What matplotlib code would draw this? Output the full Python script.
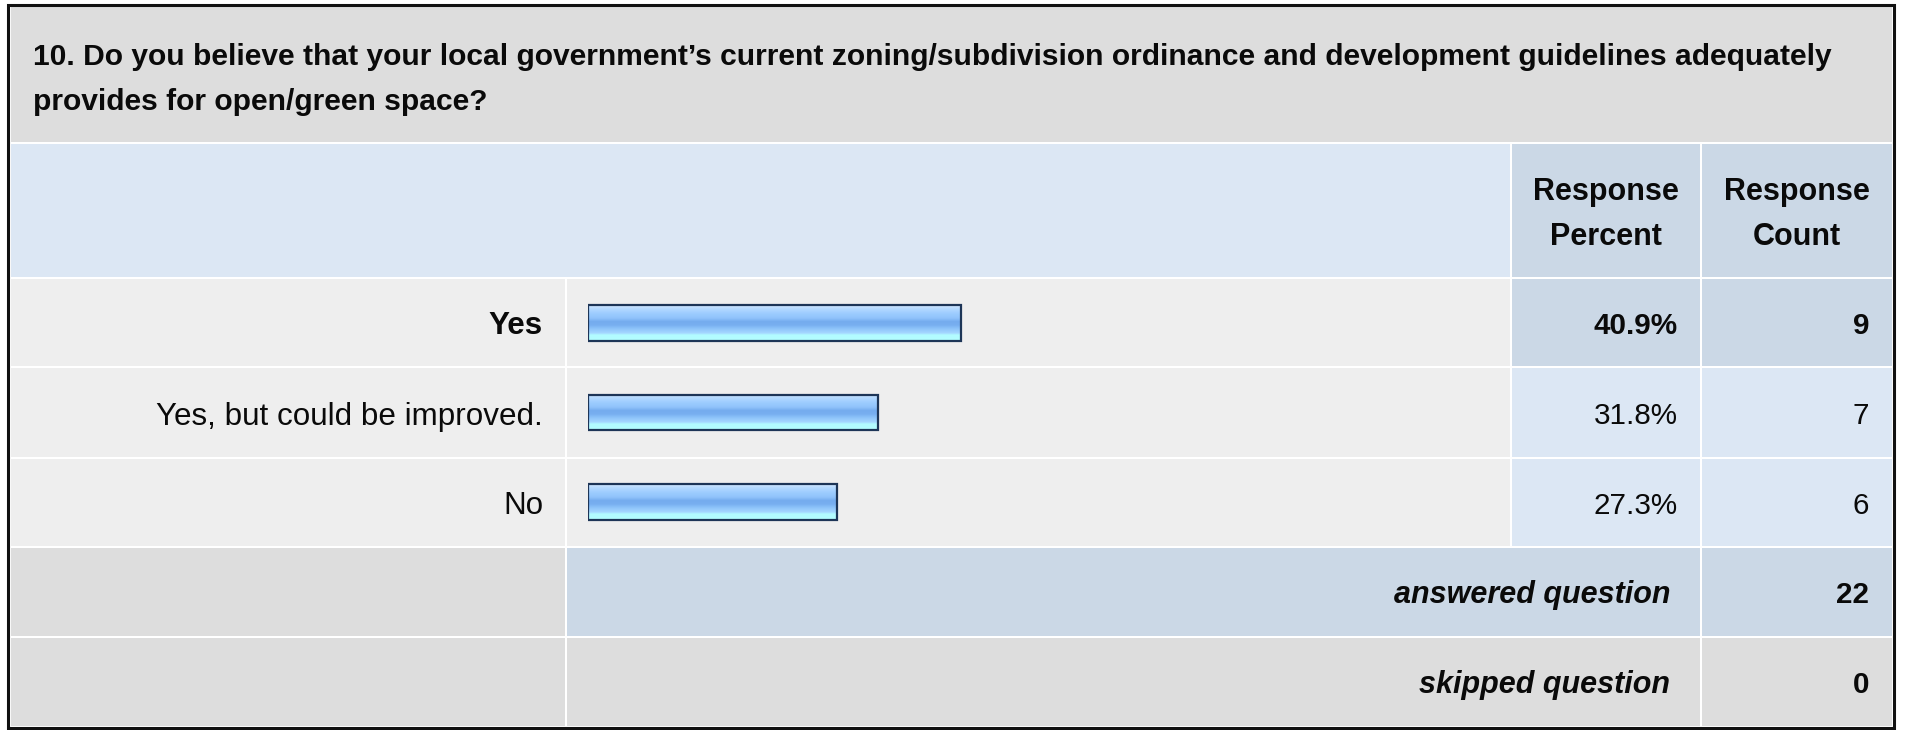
import numpy as np
import matplotlib
matplotlib.use("Agg")
import matplotlib.pyplot as plt
from matplotlib.patches import Rectangle
from matplotlib.colors import LinearSegmentedColormap
from matplotlib import font_manager

# data
title_lines = ["10. Do you believe that your local government\u2019s current zoning/subdivision ordinance and development guidelines adequately",
               "provides for open/green space?"]
answers = ["Yes", "Yes, but could be improved.", "No"]
percents = [40.9, 31.8, 27.3]
counts = [9, 7, 6]
answered = 22
skipped = 0
header_pct = ["Response", "Percent"]
header_cnt = ["Response", "Count"]

W, H = 1907, 730
GRAY = "#dddddd"
ROWC = "#eeeeee"
LIGHT = "#dce7f4"
DARK = "#cbd8e6"

plt.rcParams["font.family"] = ["Liberation Sans", "DejaVu Sans"]
names = {f.name for f in font_manager.fontManager.ttflist}
title_font = "Liberation Sans Narrow" if "Liberation Sans Narrow" in names else "Liberation Sans"

fig = plt.figure(figsize=(W / 100, H / 100), dpi=100)
fig.patch.set_facecolor("white")
ax = fig.add_axes([0, 0, 1, 1])
ax.set_xlim(0, W)
ax.set_ylim(H, 0)
ax.axis("off")

xs = [10, 566, 1511, 1701, 1893]
ys = [6, 143, 278, 367, 458, 547, 637, 727]


def cell(x0, x1, y0, y1, color):
    ax.add_patch(Rectangle((x0 + 1, y0 + 1), x1 - x0 - 2, y1 - y0 - 2,
                           facecolor=color, edgecolor="none", zorder=1))


# title + header
cell(xs[0], xs[4], ys[0], ys[1], GRAY)
cell(xs[0], xs[2], ys[1], ys[2], LIGHT)
cell(xs[2], xs[3], ys[1], ys[2], DARK)
cell(xs[3], xs[4], ys[1], ys[2], DARK)

top = int(np.argmax(percents))
for i in range(len(answers)):
    y0, y1 = ys[2 + i], ys[3 + i]
    cell(xs[0], xs[1], y0, y1, ROWC)
    cell(xs[1], xs[2], y0, y1, ROWC)
    c = DARK if i == top else LIGHT
    cell(xs[2], xs[3], y0, y1, c)
    cell(xs[3], xs[4], y0, y1, c)

# answered / skipped rows
cell(xs[0], xs[1], ys[5], ys[6], GRAY)
cell(xs[1], xs[3], ys[5], ys[6], DARK)
cell(xs[3], xs[4], ys[5], ys[6], DARK)
cell(xs[0], xs[1], ys[6], ys[7], GRAY)
cell(xs[1], xs[3], ys[6], ys[7], GRAY)
cell(xs[3], xs[4], ys[6], ys[7], GRAY)

# outer border
ax.add_patch(Rectangle((7.5, 4.5), 1886, 723, facecolor="none",
                       edgecolor="#111111", linewidth=2.2, zorder=5))

# title text, fit to width
t1 = ax.text(33, 65, title_lines[0], fontsize=22, fontweight="bold",
             family=[title_font, "DejaVu Sans"], ha="left", va="baseline", color="#0a0a0a")
fig.canvas.draw()
w = t1.get_window_extent().width
fs = 22 * 1797 / w
t1.set_fontsize(fs)
ax.text(33, 110, title_lines[1], fontsize=fs, fontweight="bold",
        family=[title_font, "DejaVu Sans"], ha="left", va="baseline", color="#0a0a0a")

FS = 22
LFS = 22.6
VFS = 21.3
for k in range(2):
    ax.text((xs[2] + xs[3]) / 2, 200 + 45 * k, header_pct[k], fontsize=FS,
            fontweight="bold", ha="center", va="baseline", color="#0a0a0a")
    ax.text((xs[3] + xs[4]) / 2, 200 + 45 * k, header_cnt[k], fontsize=FS,
            fontweight="bold", ha="center", va="baseline", color="#0a0a0a")

for i, (a, p, n) in enumerate(zip(answers, percents, counts)):
    yc = (ys[2 + i] + ys[3 + i]) / 2 + 12
    wt = "bold" if i == top else "normal"
    ax.text(543, yc, a, fontsize=LFS, fontweight=wt, ha="right", va="baseline", color="#0a0a0a")
    ax.text(1678, yc, f"{p:.1f}%", fontsize=VFS, fontweight=wt, ha="right", va="baseline", color="#0a0a0a")
    ax.text(1869, yc, str(n), fontsize=VFS, fontweight=wt, ha="right", va="baseline", color="#0a0a0a")

for j, (lab, v) in enumerate([("answered question", answered), ("skipped question", skipped)]):
    yc = (ys[5 + j] + ys[6 + j]) / 2 + 11
    ax.text(1670, yc, lab, fontsize=FS, fontweight="bold", style="italic",
            ha="right", va="baseline", color="#0a0a0a")
    ax.text(1869, yc, str(v), fontsize=VFS, fontweight="bold", ha="right", va="baseline", color="#0a0a0a")

# bars
bax = fig.add_axes([588 / W, 1 - ys[5] / H, 912 / W, (ys[5] - ys[2]) / H])
bax.axis("off")
grad = LinearSegmentedColormap.from_list("bar", [
    (0.00, "#d2e8ff"), (0.10, "#b4d9ff"), (0.22, "#9ecdff"), (0.36, "#90c3fb"),
    (0.46, "#74abee"), (0.56, "#78aff0"), (0.66, "#8ec4fa"), (0.78, "#a4d6ff"),
    (0.84, "#b2fbff"), (1.00, "#b4feff")])
img = np.linspace(0, 1, 64).reshape(-1, 1)
ypos = np.arange(len(answers))
bars = bax.barh(ypos, percents, height=0.40, facecolor="none",
                edgecolor="#1d3557", linewidth=1.6, zorder=3)
for b in bars:
    x0, y0 = b.get_x(), b.get_y()
    im = bax.imshow(img, cmap=grad, aspect="auto", interpolation="bilinear",
                    extent=[x0, x0 + b.get_width(), y0 + b.get_height(), y0], zorder=2)
    im.set_clip_path(b)
bax.set_xlim(0, 100)
bax.set_ylim(len(answers) - 0.5, -0.5)

fig.savefig("out.png", dpi=100)
